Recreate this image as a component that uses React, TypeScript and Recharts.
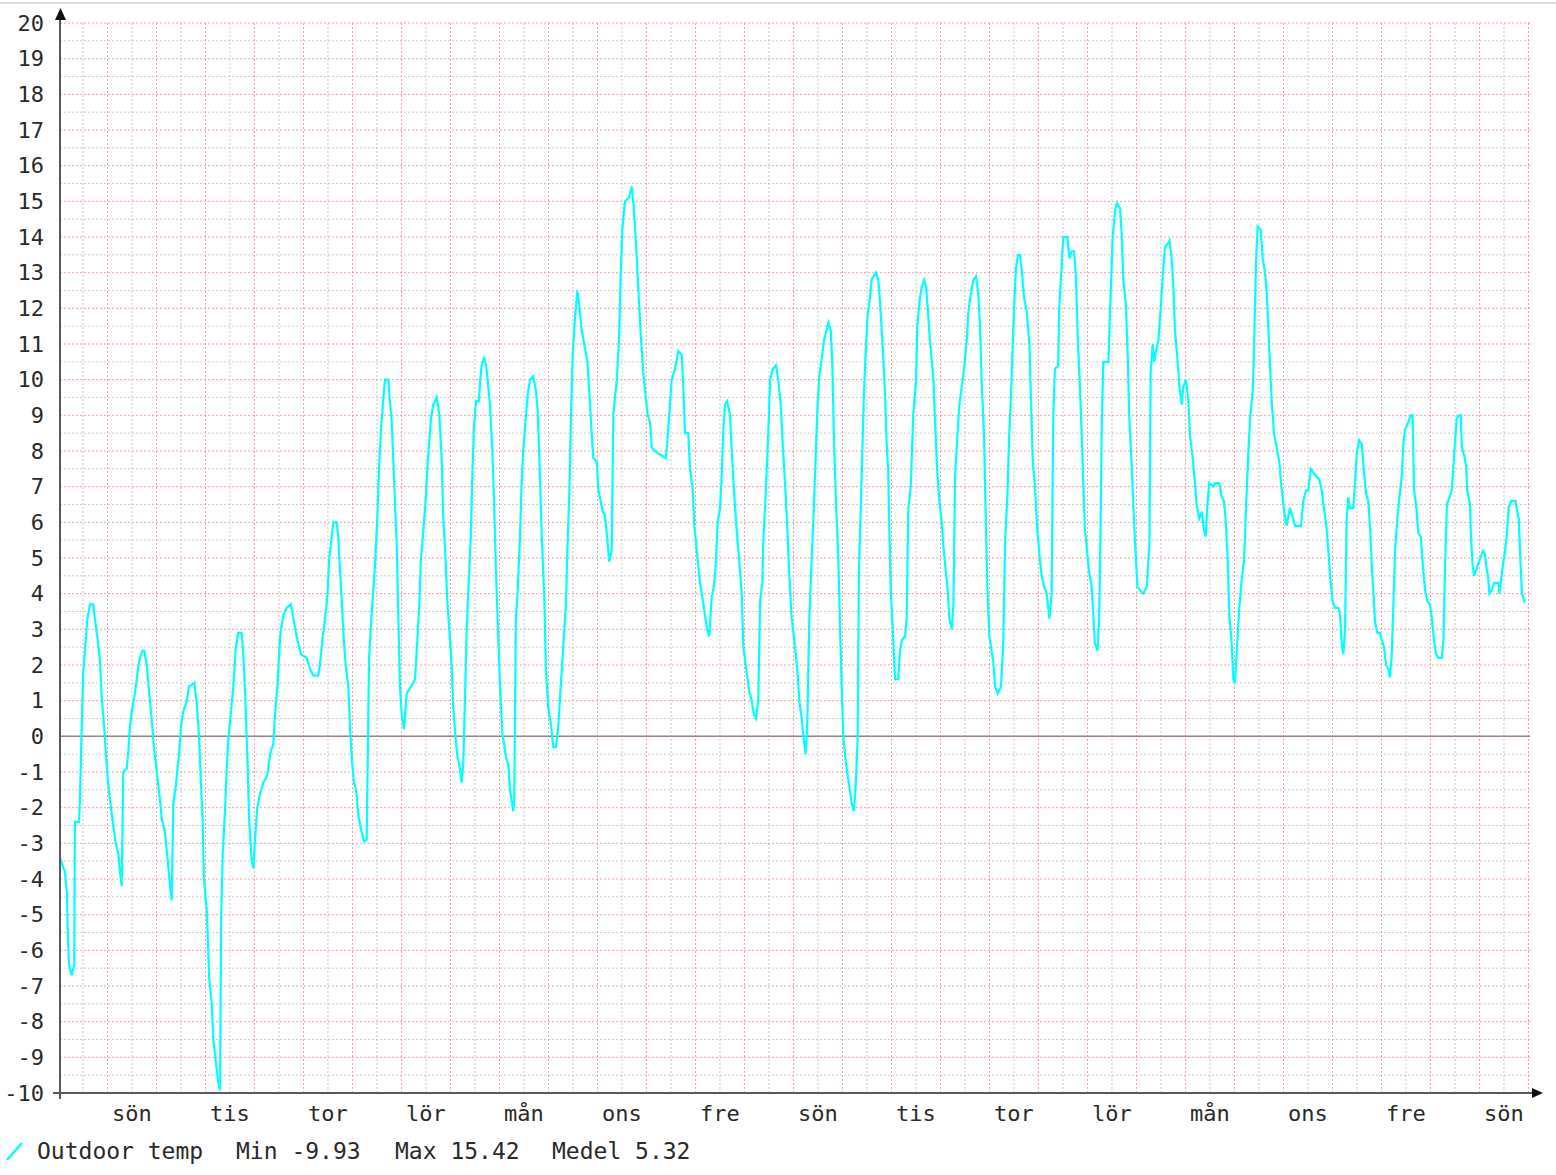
import { LineChart, Line, XAxis, YAxis, CartesianGrid, ReferenceLine } from 'recharts'

// hours since start of the 30 day window
const hours = [
  0.0, 2.4, 3.4, 3.8, 4.4, 5.7, 7.0, 7.3, 9.3, 9.8,
  10.6, 11.4, 12.6, 13.4, 14.7, 16.3, 17.1, 18.5, 19.6, 20.4,
  21.6, 22.5, 23.4, 24.5, 26.1, 27.3, 28.6, 29.4, 30.2, 31.0,
  32.7, 33.5, 34.3, 35.4, 36.4, 37.6, 38.7, 40.3, 41.3, 42.5,
  43.7, 44.9, 46.0, 47.4, 49.0, 49.8, 51.4, 52.8, 53.9, 54.7,
  55.5, 56.7, 58.3, 59.3, 60.4, 62.1, 63.2, 65.8, 67.0, 68.1,
  69.1, 69.9, 70.5, 71.9, 72.6, 73.1, 74.3, 75.1, 76.3, 77.5,
  78.4, 78.9, 79.7, 80.8, 81.6, 82.4, 83.6, 84.9, 86.1, 87.3,
  89.0, 89.8, 90.6, 91.9, 92.7, 93.9, 94.7, 95.5, 96.6, 98.0,
  99.6, 101.5, 102.9, 104.5, 105.3, 106.6, 107.8, 109.4, 111.0, 113.1,
  114.3, 115.9, 118.0, 120.8, 122.4, 124.1, 126.5, 127.3, 128.7, 129.8,
  130.9, 131.9, 132.7, 133.9, 135.5, 136.3, 137.1, 138.0, 139.1, 140.1,
  141.2, 142.0, 142.9, 144.0, 145.0, 146.1, 147.4, 148.9, 150.2, 151.0,
  151.4, 152.7, 154.3, 155.4, 156.2, 157.2, 158.4, 159.2, 160.8, 161.3,
  162.5, 163.7, 164.9, 165.7, 166.5, 167.4, 168.5, 169.8, 171.9, 173.9,
  175.0, 176.0, 176.7, 178.3, 179.3, 180.1, 180.9, 181.7, 182.8, 184.5,
  185.8, 187.0, 187.7, 188.9, 189.7, 190.7, 191.9, 192.6, 194.0, 194.8,
  195.6, 196.7, 197.5, 198.5, 199.2, 200.0, 201.2, 202.1, 202.8, 203.8,
  205.2, 205.7, 206.5, 207.7, 208.7, 209.8, 210.6, 211.7, 212.6, 213.5,
  215.0, 215.9, 216.8, 217.5, 218.5, 219.6, 220.4, 221.2, 222.0, 222.5,
  223.3, 224.2, 225.3, 226.1, 226.9, 228.1, 229.1, 230.2, 231.8, 233.1,
  234.0, 234.8, 235.9, 237.2, 238.0, 239.1, 240.3, 241.6, 242.9, 244.1,
  244.9, 245.7, 246.9, 247.8, 248.5, 249.5, 250.3, 251.1, 252.2, 253.4,
  254.3, 255.5, 257.1, 258.3, 259.3, 260.4, 261.2, 262.9, 263.7, 264.8,
  265.8, 266.9, 268.1, 269.0, 270.2, 271.0, 271.8, 272.7, 273.8, 274.6,
  275.4, 276.7, 278.7, 280.0, 281.1, 282.5, 283.3, 284.4, 285.7, 286.9,
  287.9, 289.0, 289.8, 291.4, 293.9, 296.8, 297.5, 298.4, 299.6, 301.2,
  302.8, 304.5, 305.3, 306.1, 307.7, 308.6, 309.9, 310.7, 311.9, 312.6,
  313.5, 314.6, 315.9, 317.0, 318.0, 319.2, 320.3, 321.2, 322.1, 323.3,
  324.1, 324.9, 325.7, 326.8, 328.2, 329.0, 330.1, 331.4, 332.7, 333.9,
  334.7, 336.3, 337.5, 338.8, 339.9, 340.9, 342.0, 342.9, 344.0, 344.5,
  345.8, 346.9, 347.8, 349.1, 350.7, 351.8, 353.0, 353.8, 355.1, 356.2,
  357.2, 358.4, 360.0, 361.1, 362.1, 363.3, 364.1, 365.2, 366.0, 367.0,
  368.2, 369.3, 370.1, 370.9, 371.9, 373.1, 374.2, 375.5, 376.3, 377.5,
  378.3, 379.1, 380.1, 381.2, 382.0, 382.9, 383.7, 384.8, 385.8, 386.9,
  387.8, 388.9, 389.9, 390.7, 391.3, 392.6, 393.7, 394.6, 395.6, 396.7,
  397.5, 399.6, 400.8, 401.6, 402.9, 404.1, 404.9, 405.7, 406.2, 406.9,
  407.8, 409.0, 410.6, 411.4, 412.3, 413.9, 414.7, 415.5, 416.7, 417.9,
  419.3, 419.9, 421.2, 422.1, 423.2, 424.2, 425.0, 426.1, 427.8, 428.6,
  429.7, 430.7, 431.9, 432.7, 433.9, 434.8, 435.6, 436.8, 437.6, 438.4,
  439.5, 440.5, 441.7, 442.8, 444.1, 444.9, 446.1, 447.4, 448.7, 449.8,
  450.6, 451.4, 452.6, 453.4, 454.2, 455.2, 456.3, 457.1, 458.0, 459.3,
  460.9, 462.0, 462.9, 464.0, 464.8, 465.7, 466.6, 467.3, 468.2, 469.2,
  470.2, 471.2, 472.2, 473.5, 474.8, 475.4, 476.4, 477.5, 478.7, 479.7,
  480.8, 482.0, 483.3, 484.6, 485.7, 486.5, 487.3, 488.9, 489.4, 490.6,
  491.4, 493.4, 494.4, 495.5, 496.7, 497.6, 498.5, 499.6, 500.4, 501.2,
  502.0, 503.2, 504.1, 505.3, 506.1, 506.9, 508.2, 509.0, 509.7, 510.2,
  511.0, 513.5, 514.0, 514.8, 515.6, 516.7, 517.6, 519.2, 520.0, 520.8,
  522.1, 523.0, 523.7, 524.9, 525.7, 526.5, 527.7, 529.0, 530.6, 532.3,
  533.6, 534.2, 535.2, 536.0, 536.8, 538.0, 539.1, 540.1, 541.2, 542.4,
  543.4, 544.5, 545.3, 546.1, 547.3, 548.3, 549.4, 550.2, 551.5, 552.7,
  553.5, 554.8, 555.9, 556.7, 558.0, 559.2, 560.3, 561.2, 562.0, 562.9,
  564.9, 565.7, 567.8, 569.0, 570.1, 570.9, 571.9, 572.7, 573.9, 574.7,
  575.5, 576.4, 577.6, 578.8, 579.9, 580.9, 582.0, 582.9, 584.2, 584.8,
  585.8, 586.6, 588.1, 589.1, 590.2, 591.0, 591.8, 592.7, 593.5, 594.6,
  595.9, 597.2, 598.4, 599.6, 600.8, 602.4, 603.5, 604.9, 607.8, 609.0,
  610.3, 611.4, 612.6, 613.9, 615.2, 616.8, 618.0, 618.8, 619.6, 620.4,
  621.5, 622.4, 623.3, 624.5, 626.1, 626.9, 627.8, 628.6, 629.4, 630.2,
  631.0, 631.8, 633.5, 634.3, 635.1, 636.3, 637.6, 638.7, 639.7, 640.8,
  641.6, 642.5, 643.3, 644.1, 645.2, 646.5, 647.4, 648.5, 649.5, 650.6,
  651.4, 652.2, 653.1, 653.9, 655.0, 656.4, 657.2, 658.0, 658.8, 660.4,
  661.6, 662.5, 663.2, 664.2, 665.3, 666.5, 667.5, 668.6, 669.7, 671.0,
  671.9, 673.0, 674.0, 675.2, 676.8, 677.6, 678.4, 679.3, 680.5, 681.7,
  682.5, 683.3, 684.1, 685.3, 686.1, 686.6, 687.7, 688.7, 689.3, 690.6,
  691.1, 691.9, 692.6, 693.9, 695.0, 696.9, 698.0, 698.5, 699.6, 700.1,
  701.3, 702.4, 704.5, 705.0, 705.7, 706.7, 707.8, 708.7, 709.5, 710.8,
  712.9, 713.7, 714.5, 715.3, 716.1, 717.4,
]

// outdoor temperature, °C
const temps = [
  -3.4, -3.8, -4.4, -5.5, -6.4, -6.7, -6.4, -2.4, -2.4, -1.7,
  0.2, 1.8, 2.7, 3.3, 3.7, 3.7, 3.3, 2.7, 2.1, 1.1,
  0.3, -0.5, -1.2, -1.8, -2.5, -3.0, -3.3, -3.8, -4.2, -1.0,
  -0.9, -0.4, 0.3, 0.8, 1.1, 1.6, 2.1, 2.4, 2.4, 2.0,
  1.2, 0.5, -0.3, -1.0, -1.8, -2.3, -2.7, -3.5, -4.2, -4.6,
  -1.9, -1.4, -0.5, 0.3, 0.7, 1.0, 1.4, 1.5, 0.9, 0.0,
  -1.4, -2.4, -4.0, -4.9, -6.0, -6.8, -7.5, -8.5, -9.1, -9.7,
  -9.93, -5.1, -3.3, -2.1, -1.0, -0.1, 0.6, 1.4, 2.5, 2.9,
  2.9, 2.3, 1.3, -0.8, -2.4, -3.5, -3.7, -2.9, -2.0, -1.6,
  -1.3, -1.1, -0.5, -0.2, 0.6, 1.5, 2.8, 3.4, 3.6, 3.7,
  3.3, 2.8, 2.3, 2.2, 1.9, 1.7, 1.7, 2.0, 2.8, 3.3,
  3.9, 5.0, 5.4, 6.0, 6.0, 5.6, 4.7, 3.8, 2.6, 1.9,
  1.4, 0.3, -0.6, -1.3, -1.5, -2.2, -2.6, -2.95, -2.9, 0.6,
  2.2, 3.5, 4.8, 6.1, 7.4, 8.6, 9.5, 10.0, 10.0, 9.6,
  8.8, 7.1, 5.4, 3.4, 1.4, 0.6, 0.2, 1.2, 1.4, 1.6,
  2.7, 3.7, 4.9, 6.0, 6.8, 7.7, 8.3, 8.9, 9.3, 9.5,
  9.0, 7.7, 6.2, 4.9, 3.8, 3.0, 1.9, 0.8, -0.2, -0.6,
  -0.8, -1.3, -0.8, 1.4, 3.0, 4.1, 5.6, 7.6, 8.7, 9.4,
  9.4, 9.9, 10.4, 10.6, 10.4, 9.8, 9.3, 8.1, 6.6, 4.7,
  2.2, 0.9, 0.0, -0.2, -0.6, -0.8, -1.5, -1.8, -2.1, -1.7,
  3.3, 4.1, 5.6, 7.1, 8.0, 8.9, 9.6, 10.0, 10.1, 9.7,
  9.1, 7.8, 5.7, 3.9, 1.9, 0.8, 0.4, -0.3, -0.3, 0.3,
  1.1, 1.8, 2.9, 3.7, 5.2, 6.9, 9.0, 10.7, 11.7, 12.5,
  12.1, 11.4, 10.9, 10.5, 9.6, 8.5, 7.8, 7.7, 6.9, 6.6,
  6.3, 6.2, 5.5, 4.9, 5.2, 9.0, 9.5, 10.0, 11.1, 12.9,
  14.2, 15.0, 15.1, 15.42, 14.8, 13.4, 12.5, 11.3, 10.2, 9.5,
  9.0, 8.8, 8.1, 8.0, 7.9, 7.8, 8.3, 9.0, 10.0, 10.3,
  10.8, 10.7, 9.8, 8.5, 8.5, 7.5, 6.9, 5.9, 5.2, 4.8,
  4.3, 3.9, 3.4, 3.0, 2.8, 3.9, 4.2, 4.8, 6.0, 6.4,
  7.3, 8.6, 9.3, 9.4, 9.0, 8.0, 6.9, 5.8, 4.9, 4.0,
  2.5, 1.8, 1.3, 1.0, 0.6, 0.5, 1.0, 3.8, 4.3, 5.5,
  7.0, 8.5, 10.0, 10.3, 10.4, 10.0, 9.3, 8.4, 7.1, 5.9,
  4.5, 3.3, 2.5, 1.9, 1.0, 0.5, 0.0, -0.5, 0.3, 3.3,
  5.0, 6.5, 7.8, 9.1, 10.1, 10.6, 11.1, 11.4, 11.6, 11.4,
  10.4, 8.3, 6.5, 5.0, 3.2, 1.3, 0.0, -0.7, -1.1, -1.5,
  -1.9, -2.1, -1.2, 0.0, 4.6, 7.2, 9.5, 10.8, 11.8, 12.3,
  12.8, 13.0, 12.8, 12.2, 11.0, 9.6, 8.2, 7.4, 5.8, 4.1,
  3.1, 1.6, 1.6, 2.4, 2.7, 2.8, 3.3, 6.4, 7.0, 9.0,
  10.0, 11.5, 12.3, 12.6, 12.8, 12.6, 12.0, 11.1, 10.0, 8.8,
  7.4, 6.6, 6.0, 5.3, 4.6, 4.1, 3.3, 3.0, 3.7, 7.3,
  8.4, 9.3, 9.8, 10.3, 11.1, 11.9, 12.4, 12.8, 12.9, 12.4,
  11.5, 10.0, 8.4, 6.2, 4.2, 2.8, 2.4, 2.1, 1.4, 1.2,
  1.4, 2.6, 5.5, 6.7, 8.3, 9.4, 10.9, 12.0, 13.1, 13.5,
  13.5, 13.0, 12.3, 11.9, 11.0, 9.8, 7.8, 7.0, 5.8, 5.1,
  4.5, 4.2, 4.0, 3.3, 4.0, 9.0, 10.3, 10.4, 12.0, 13.2,
  14.0, 14.0, 13.4, 13.6, 13.6, 12.9, 11.2, 9.7, 8.5, 7.1,
  5.8, 5.1, 4.6, 4.2, 3.4, 2.6, 2.4, 3.3, 6.0, 8.6,
  10.5, 10.5, 11.4, 12.7, 14.0, 14.7, 14.95, 14.8, 14.1, 12.8,
  12.1, 10.6, 9.0, 7.6, 6.5, 5.5, 4.2, 4.1, 4.0, 4.2,
  5.4, 10.2, 11.0, 10.5, 10.8, 11.1, 12.0, 12.9, 13.7, 13.8,
  13.9, 13.4, 12.6, 11.4, 10.6, 9.8, 9.3, 9.8, 10.0, 9.4,
  8.4, 7.8, 7.1, 6.5, 6.1, 6.3, 5.8, 5.6, 6.5, 7.1,
  7.0, 7.1, 7.1, 6.7, 6.6, 6.1, 5.0, 3.4, 2.6, 1.6,
  1.5, 2.4, 3.6, 4.4, 4.9, 6.4, 7.9, 8.9, 9.7, 10.8,
  13.3, 14.3, 14.2, 13.4, 13.0, 12.5, 11.5, 10.3, 9.4, 8.5,
  8.1, 7.7, 6.9, 6.3, 5.9, 6.4, 6.2, 5.9, 5.9, 6.6,
  6.9, 6.9, 7.5, 7.4, 7.3, 7.2, 6.9, 6.5, 6.2, 5.8,
  5.0, 4.3, 3.8, 3.6, 3.6, 3.4, 2.6, 2.3, 3.0, 6.1,
  6.7, 6.4, 6.4, 7.1, 7.9, 8.3, 8.2, 7.4, 6.8, 6.6,
  5.9, 4.8, 4.0, 3.2, 2.9, 2.9, 2.7, 2.5, 2.0, 1.9,
  1.65, 2.2, 3.7, 5.2, 6.1, 6.9, 7.3, 8.2, 8.6, 8.8,
  9.0, 9.0, 6.9, 6.5, 5.7, 5.6, 4.8, 4.1, 3.8, 3.7,
  3.3, 2.7, 2.3, 2.2, 2.2, 2.7, 4.8, 6.5, 6.7, 6.9,
  7.6, 8.3, 8.9, 9.0, 9.0, 8.1, 7.9, 7.6, 6.9, 6.5,
  5.6, 4.8, 4.5, 4.7, 4.9, 5.2, 5.1, 4.8, 4.4, 4.0,
  4.1, 4.3, 4.3, 4.0, 4.3, 4.8, 5.2, 5.7, 6.4, 6.6,
  6.6, 6.3, 6.1, 4.9, 4.0, 3.75,
]

const dayTicks = [35.25, 83.25, 131.25, 179.25, 227.25, 275.25, 323.25, 371.25, 419.25, 467.25, 515.25, 563.25, 611.25, 659.25, 707.25]
const dayLabels = ['sön', 'tis', 'tor', 'lör', 'mån', 'ons', 'fre', 'sön', 'tis', 'tor', 'lör', 'mån', 'ons', 'fre', 'sön']
const tempTicks = [-10, -9, -8, -7, -6, -5, -4, -3, -2, -1, 0, 1, 2, 3, 4, 5, 6, 7, 8, 9, 10, 11, 12, 13, 14, 15, 16, 17, 18, 19, 20]

const data = hours.map((h, i) => ({ h, temp: temps[i] }))

// grid: red dotted lines at whole degrees / every day, grey at the halves
const halfTicks = tempTicks.slice(0, -1).map((v) => v + 0.5)
const majorX = Array.from({ length: 30 }, (_, i) => 23.25 + 24 * i)
const minorX = Array.from({ length: 30 }, (_, i) => 11.25 + 24 * i)

const FONT = '"DejaVu Sans Mono", monospace'
const W = 1556
const H = 1175

export default function App() {
  return (
    <div style={{ position: 'absolute', left: 0, top: 0, width: W, height: H, background: '#fff' }}>
      <div style={{ position: 'absolute', left: 0, top: 2, width: W, height: 2, background: '#dedede' }} />
      <LineChart width={W} height={H} data={data} margin={{ top: 23, right: 26, bottom: 42, left: 0 }}>
        <CartesianGrid
          horizontalValues={halfTicks}
          verticalValues={minorX}
          stroke="#b8b8b8"
          strokeOpacity={0.7}
          strokeDasharray="2 2"
        />
        <CartesianGrid
          horizontalValues={tempTicks}
          verticalValues={majorX}
          stroke="#f08080"
          strokeOpacity={0.75}
          strokeDasharray="2 2"
        />
        <XAxis
          dataKey="h"
          type="number"
          domain={[0, 720]}
          ticks={dayTicks}
          interval={0}
          tickFormatter={(_, i) => dayLabels[i]}
          axisLine={false}
          tickLine={false}
          tickSize={0}
          tickMargin={12}
          height={40}
          tick={{ fill: '#2a2a2a', fontSize: 22, fontFamily: FONT }}
        />
        <YAxis
          type="number"
          domain={[-10, 20]}
          ticks={tempTicks}
          interval={0}
          axisLine={false}
          tickLine={false}
          tickSize={0}
          tickMargin={16}
          width={60}
          tick={{ fill: '#2a2a2a', fontSize: 22, fontFamily: FONT }}
        />
        <ReferenceLine y={0} stroke="#a08080" strokeWidth={1.5} />
        <Line
          dataKey="temp"
          type="linear"
          stroke="#00ffff"
          strokeWidth={2.2}
          dot={false}
          isAnimationActive={false}
        />
      </LineChart>
      <svg width={W} height={H} style={{ position: 'absolute', left: 0, top: 0, pointerEvents: 'none' }}>
        <line x1={60} y1={1099} x2={60} y2={18} stroke="#5a5a5a" strokeWidth={2} />
        <polygon points="60.5,8 55,20 66,20" fill="#111" />
        <line x1={53} y1={1093} x2={1534} y2={1093} stroke="#5a5a5a" strokeWidth={2} />
        <polygon points="1543,1093 1532,1088 1532,1098" fill="#111" />
        <line x1={7} y1={1160} x2={22} y2={1143} stroke="#00ffff" strokeWidth={2.5} />
        <g fill="#2a2a2a" fontSize={23} fontFamily={FONT}>
          <text x={37} y={1159}>Outdoor temp</text>
          <text x={236} y={1159}>Min -9.93</text>
          <text x={395} y={1159}>Max 15.42</text>
          <text x={552} y={1159}>Medel 5.32</text>
        </g>
      </svg>
    </div>
  )
}
